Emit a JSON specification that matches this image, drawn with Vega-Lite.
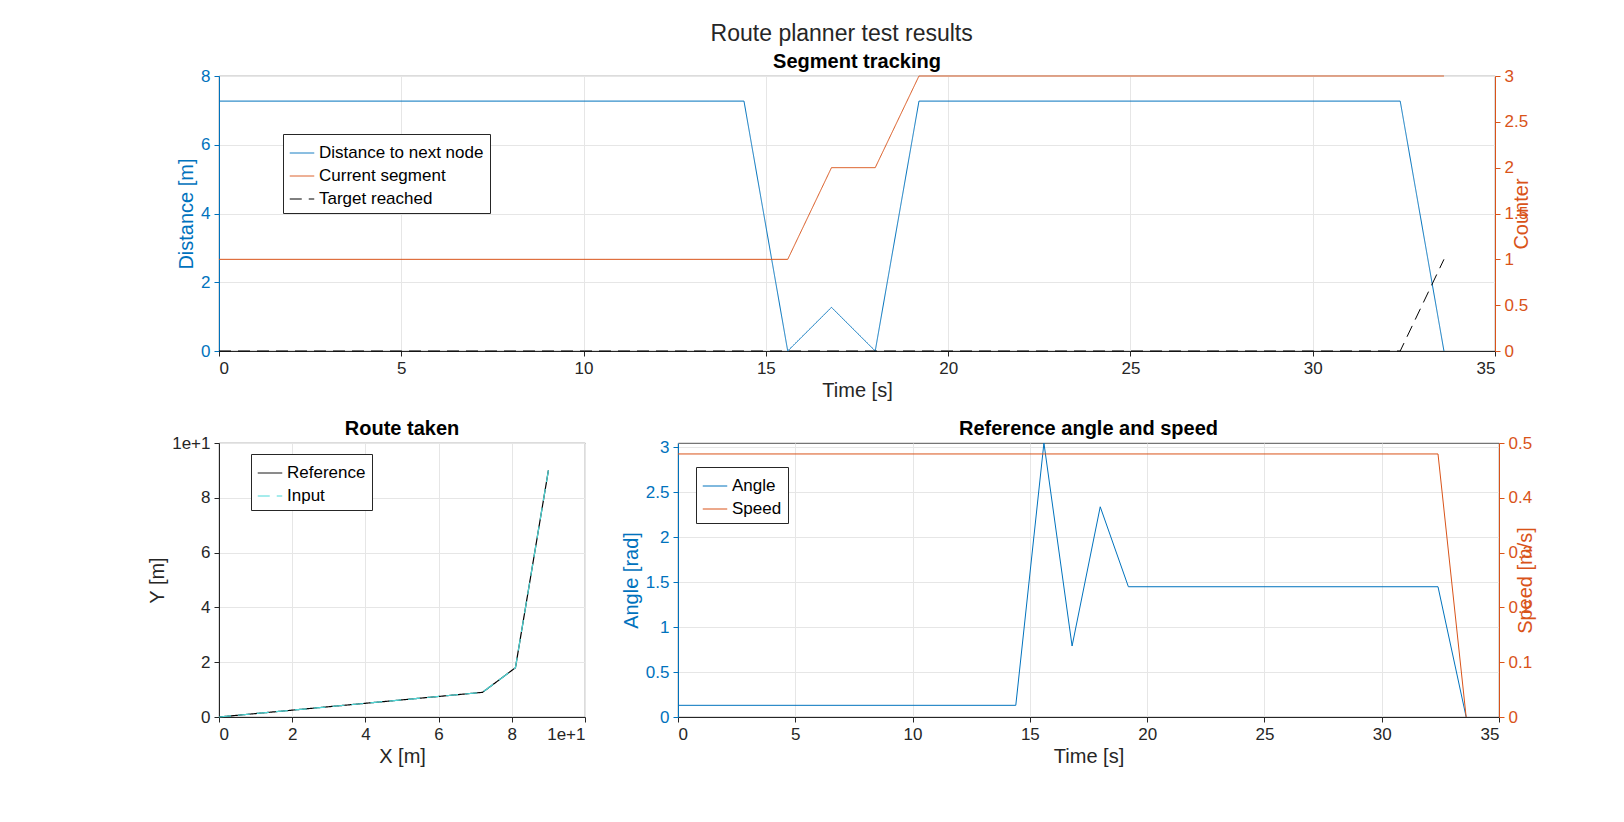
{
  "$schema": "https://vega.github.io/schema/vega-lite/v6.json",
  "background": "#ffffff",
  "padding": {"left": 147, "top": 22, "right": 10, "bottom": 5},
  "title": {"text": "Route planner test results", "fontSize": 23, "fontWeight": "normal", "font": "Liberation Sans", "color": "#262626", "anchor": "middle", "offset": 6},
  "config": {
    "font": "Liberation Sans",
    "view": {"stroke": "#262626", "strokeWidth": 0.8},
    "axis": {"labelFontSize": 17, "titleFontSize": 20, "titleFontWeight": "normal", "labelColor": "#262626", "titleColor": "#262626", "domainColor": "#262626", "tickColor": "#262626", "gridColor": "#e6e6e6", "tickSize": 5, "labelPadding": 4, "format": "~g"},
    "title": {"fontSize": 20, "fontWeight": "bold", "color": "#000000", "offset": -5},
    "legend": {"orient": "none", "strokeColor": "#262626", "fillColor": "#ffffff", "padding": 6, "labelFontSize": 17, "labelColor": "#000000", "labelLimit": 400, "symbolType": "stroke", "symbolSize": 600, "symbolStrokeWidth": 1, "title": null, "rowPadding": 2}
  },
  "datasets": {
    "dist": [
      {"t": 0, "v": 7.27, "s": "Distance to next node"},
      {"t": 14.4, "v": 7.27, "s": "Distance to next node"},
      {"t": 15.6, "v": 0, "s": "Distance to next node"},
      {"t": 16.8, "v": 1.27, "s": "Distance to next node"},
      {"t": 18.0, "v": 0, "s": "Distance to next node"},
      {"t": 19.2, "v": 7.27, "s": "Distance to next node"},
      {"t": 32.4, "v": 7.27, "s": "Distance to next node"},
      {"t": 33.6, "v": 0, "s": "Distance to next node"}
    ],
    "counter": [
      {"t": 0, "v": 1, "s": "Current segment"},
      {"t": 15.6, "v": 1, "s": "Current segment"},
      {"t": 16.8, "v": 2, "s": "Current segment"},
      {"t": 18.0, "v": 2, "s": "Current segment"},
      {"t": 19.2, "v": 3, "s": "Current segment"},
      {"t": 33.6, "v": 3, "s": "Current segment"},
      {"t": 0, "v": 0, "s": "Target reached"},
      {"t": 32.4, "v": 0, "s": "Target reached"},
      {"t": 33.6, "v": 1, "s": "Target reached"}
    ],
    "route": [
      {"x": 0, "y": 0, "o": 0, "r": "Reference"},
      {"x": 7.2, "y": 0.9, "o": 1, "r": "Reference"},
      {"x": 8.1, "y": 1.8, "o": 2, "r": "Reference"},
      {"x": 9, "y": 9, "o": 3, "r": "Reference"},
      {"x": 0, "y": 0, "o": 0, "r": "Input"},
      {"x": 7.2, "y": 0.9, "o": 1, "r": "Input"},
      {"x": 8.1, "y": 1.8, "o": 2, "r": "Input"},
      {"x": 9, "y": 9, "o": 3, "r": "Input"}
    ],
    "angle": [
      {"t": 0, "v": 0.13, "a": "Angle"},
      {"t": 14.4, "v": 0.13, "a": "Angle"},
      {"t": 15.6, "v": 3.05, "a": "Angle"},
      {"t": 16.8, "v": 0.79, "a": "Angle"},
      {"t": 18.0, "v": 2.34, "a": "Angle"},
      {"t": 19.2, "v": 1.45, "a": "Angle"},
      {"t": 32.4, "v": 1.45, "a": "Angle"},
      {"t": 33.6, "v": 0, "a": "Angle"}
    ],
    "speed": [
      {"t": 0, "v": 0.48, "a": "Speed"},
      {"t": 32.4, "v": 0.48, "a": "Speed"},
      {"t": 33.6, "v": 0, "a": "Speed"}
    ]
  },
  "resolve": {"scale": {"color": "independent", "strokeDash": "independent"}, "legend": {"color": "independent", "strokeDash": "independent"}},
  "spacing": 17,
  "vconcat": [
    {
      "title": "Segment tracking",
      "width": 1276,
      "height": 275,
      "encoding": {
        "x": {"field": "t", "type": "quantitative", "scale": {"domain": [0, 35]}, "axis": {"title": "Time [s]", "values": [0, 5, 10, 15, 20, 25, 30, 35], "grid": true}},
        "color": {"field": "s", "type": "nominal", "sort": null, "scale": {"domain": ["Distance to next node", "Current segment", "Target reached"], "range": ["#0072BD", "#D95319", "#000000"]}, "legend": {"legendX": 64, "legendY": 58}},
        "strokeDash": {"field": "s", "type": "nominal", "sort": null, "scale": {"domain": ["Distance to next node", "Current segment", "Target reached"], "range": [[1, 0], [1, 0], [12, 7]]}}
      },
      "layer": [
        {
          "data": {"name": "dist"},
          "mark": {"type": "line", "strokeWidth": 1},
          "encoding": {
            "y": {"field": "v", "type": "quantitative", "scale": {"domain": [0, 8]}, "axis": {"title": "Distance [m]", "values": [0, 2, 4, 6, 8], "grid": true, "labelColor": "#0072BD", "titleColor": "#0072BD", "domainColor": "#0072BD", "tickColor": "#0072BD"}}
          }
        },
        {
          "data": {"name": "counter"},
          "mark": {"type": "line", "strokeWidth": 1},
          "encoding": {
            "y": {"field": "v", "type": "quantitative", "scale": {"domain": [0, 3]}, "axis": {"orient": "right", "title": "Counter", "titleAngle": 270, "values": [0, 0.5, 1, 1.5, 2, 2.5, 3], "grid": false, "labelColor": "#D95319", "titleColor": "#D95319", "domainColor": "#D95319", "tickColor": "#D95319"}}
          }
        }
      ],
      "resolve": {"scale": {"y": "independent"}}
    },
    {
      "spacing": 34,
      "resolve": {"scale": {"color": "independent", "strokeDash": "independent"}, "legend": {"color": "independent", "strokeDash": "independent"}},
      "hconcat": [
        {
          "title": "Route taken",
          "width": 366,
          "height": 274,
          "data": {"name": "route"},
          "mark": {"type": "line", "strokeWidth": 1.2},
          "encoding": {
            "x": {"field": "x", "type": "quantitative", "scale": {"domain": [0, 10]}, "axis": {"title": "X [m]", "values": [0, 2, 4, 6, 8, 10]}},
            "y": {"field": "y", "type": "quantitative", "scale": {"domain": [0, 10]}, "axis": {"title": "Y [m]", "values": [0, 2, 4, 6, 8, 10]}},
            "order": {"field": "o"},
            "color": {"field": "r", "type": "nominal", "sort": null, "scale": {"domain": ["Reference", "Input"], "range": ["#000000", "#4DD9D9"]}, "legend": {"legendX": 32, "legendY": 11}},
            "strokeDash": {"field": "r", "type": "nominal", "sort": null, "scale": {"domain": ["Reference", "Input"], "range": [[1, 0], [12, 7]]}}
          }
        },
        {
          "title": "Reference angle and speed",
          "width": 821,
          "height": 274,
          "encoding": {
            "x": {"field": "t", "type": "quantitative", "scale": {"domain": [0, 35]}, "axis": {"title": "Time [s]", "values": [0, 5, 10, 15, 20, 25, 30, 35]}},
            "color": {"field": "a", "type": "nominal", "sort": null, "scale": {"domain": ["Angle", "Speed"], "range": ["#0072BD", "#D95319"]}, "legend": {"legendX": 18, "legendY": 24}}
          },
          "layer": [
            {
              "data": {"name": "angle"},
              "mark": {"type": "line", "strokeWidth": 1},
              "encoding": {
                "y": {"field": "v", "type": "quantitative", "scale": {"domain": [0, 3.05], "nice": false}, "axis": {"title": "Angle [rad]", "values": [0, 0.5, 1, 1.5, 2, 2.5, 3], "labelColor": "#0072BD", "titleColor": "#0072BD", "domainColor": "#0072BD", "tickColor": "#0072BD"}}
              }
            },
            {
              "data": {"name": "speed"},
              "mark": {"type": "line", "strokeWidth": 1},
              "encoding": {
                "y": {"field": "v", "type": "quantitative", "scale": {"domain": [0, 0.5]}, "axis": {"orient": "right", "title": "Speed [m/s]", "titleAngle": 270, "values": [0, 0.1, 0.2, 0.3, 0.4, 0.5], "grid": false, "labelColor": "#D95319", "titleColor": "#D95319", "domainColor": "#D95319", "tickColor": "#D95319"}}
              }
            }
          ],
          "resolve": {"scale": {"y": "independent"}}
        }
      ]
    }
  ]
}
